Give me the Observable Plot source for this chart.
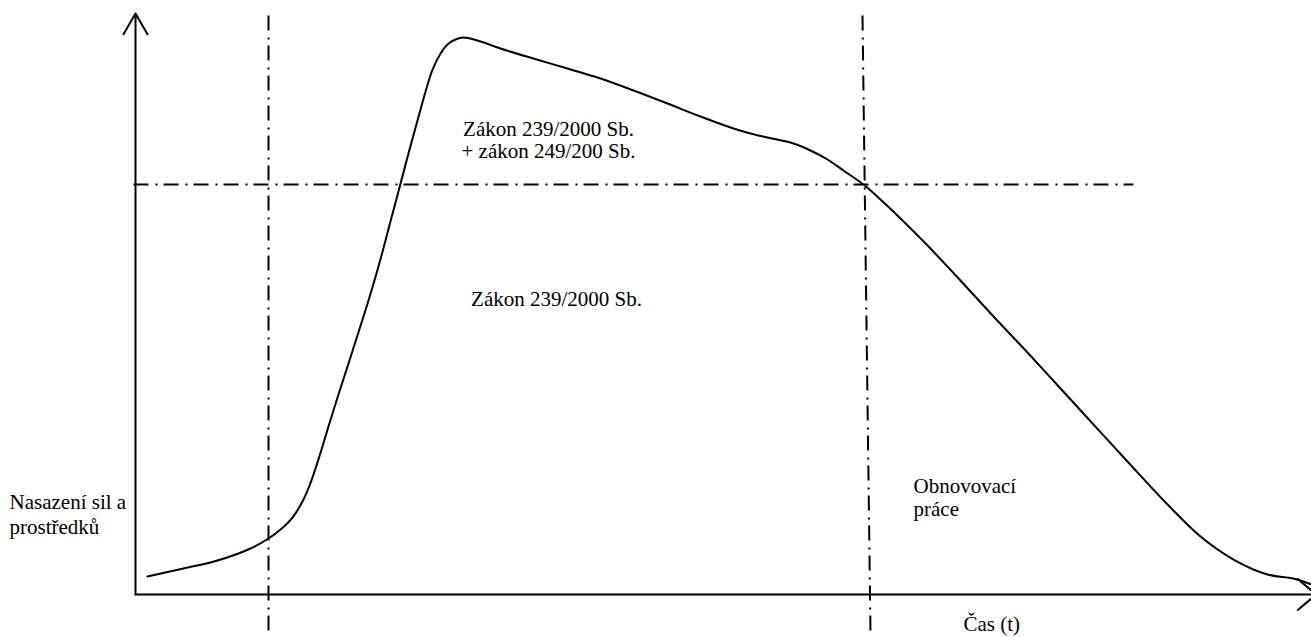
<!DOCTYPE html>
<html>
<head>
<meta charset="utf-8">
<script src="https://cdn.jsdelivr.net/npm/d3@7"></script>
<script src="https://cdn.jsdelivr.net/npm/@observablehq/plot@0.6"></script>
<style>
  html, body { margin: 0; padding: 0; background: #fff; }
  #chart svg { display: block; }
  #chart svg text { font-family: "Liberation Serif", "Times New Roman", "DejaVu Serif", serif !important; }
</style>
</head>
<body>
<div id="chart"></div>
<script>
// Time axis t (0..100) and deployment of forces f (0..100)
const curveT = [1.02, 4.08, 6.97, 9.78, 11.31, 12.33, 13.35, 14.20, 14.80, 15.31, 15.82, 16.41, 17.18, 18.03, 18.79, 19.47, 20.07, 20.92, 21.68, 22.45, 23.21, 23.98, 24.74, 25.26, 25.94, 26.53, 27.21, 27.89, 29.08, 31.04, 33.84, 36.73, 39.54, 42.35, 45.24, 48.04, 50.85, 52.30, 53.74, 55.95, 57.40, 58.84, 60.20, 61.90, 63.35, 65.05, 67.35, 70.15, 72.96, 75.85, 78.66, 81.46, 84.35, 87.76, 90.56, 93.37, 96.26, 98.47, 100];
const curveF = [3.10, 4.47, 5.85, 7.92, 9.64, 11.19, 13.25, 16.01, 18.76, 21.69, 24.96, 28.92, 33.91, 39.24, 44.06, 48.36, 52.32, 58.35, 64.20, 70.05, 75.90, 81.58, 87.09, 90.36, 93.12, 94.66, 95.52, 95.87, 95.35, 93.98, 92.25, 90.53, 88.81, 86.75, 84.51, 82.27, 80.21, 79.35, 78.66, 77.62, 76.42, 74.87, 72.98, 70.57, 67.99, 64.72, 60.07, 54.04, 47.85, 41.65, 35.46, 29.26, 22.89, 15.49, 9.98, 6.02, 3.44, 2.75, 1.72];

// Threshold level and phase boundaries
const thresholdF = 70.57;
const thresholdSpan = [-0.17, 84.86];
const phaseStartT = [11.31, 11.31];
const phaseEndT = [61.82, 62.5];
const phaseSpanF = [99.66, -6.54];

const labelUpper = "Zákon 239/2000 Sb.\n+ zákon 249/200 Sb.";
const labelLower = "Zákon 239/2000 Sb.";
const labelY = "Nasazení sil a\nprostředků";
const labelRecovery = "Obnovovací\npráce";
const labelX = "Čas (t)";

const curve = curveT.map((t, i) => ({t, f: curveF[i]}));
const font = "Liberation Serif";
const dash = "15,7,2,6";

const chart = Plot.plot({
  width: 1311,
  height: 637,
  margin: 0,
  style: {background: "#fff", overflow: "visible", fontFamily: "'Liberation Serif', serif"},
  x: {domain: [0, 100], range: [135, 1311], axis: null},
  y: {domain: [0, 100], range: [594, 13], axis: null},
  marks: [
    // axes with arrows
    Plot.arrow([0], {x1: 0, y1: 0, x2: 0, y2: 100, stroke: "#000", strokeWidth: 2, headLength: 18, headAngle: 60}),
    Plot.arrow([0], {x1: 0, y1: 0, x2: 100.4, y2: 0, stroke: "#000", strokeWidth: 2, headLength: 18, headAngle: 80}),
    // dash-dot guides
    Plot.link([0], {x1: thresholdSpan[0], x2: thresholdSpan[1], y1: thresholdF, y2: thresholdF, stroke: "#000", strokeWidth: 2, strokeDasharray: dash}),
    Plot.link([0], {x1: phaseStartT[0], x2: phaseStartT[1], y1: phaseSpanF[0], y2: phaseSpanF[1], stroke: "#000", strokeWidth: 2, strokeDasharray: dash}),
    Plot.link([0], {x1: phaseEndT[0], x2: phaseEndT[1], y1: phaseSpanF[0], y2: phaseSpanF[1], stroke: "#000", strokeWidth: 2, strokeDasharray: dash}),
    // curve
    Plot.line(curve, {x: "t", y: "f", stroke: "#000", strokeWidth: 2, curve: "catmull-rom"}),
    // labels
    Plot.text([labelUpper], {x: 35.12, y: 78.26, text: d => d, fontFamily: font, fontSize: 21, fill: "#000", lineHeight: 1.05, textAnchor: "middle"}),
    Plot.text([labelLower], {x: 35.8, y: 50.9, text: d => d, fontFamily: font, fontSize: 21, fill: "#000", textAnchor: "middle"}),
    Plot.text([labelY], {x: -10.71, y: 13.89, text: d => d, fontFamily: font, fontSize: 21, fill: "#000", lineHeight: 1.2, textAnchor: "start"}),
    Plot.text([labelRecovery], {x: 66.16, y: 16.73, text: d => d, fontFamily: font, fontSize: 21, fill: "#000", lineHeight: 1.1, textAnchor: "start"}),
    Plot.text([labelX], {x: 70.41, y: -5.04, text: d => d, fontFamily: font, fontSize: 21, fill: "#000", textAnchor: "start"})
  ]
});
document.getElementById("chart").appendChild(chart);
</script>
</body>
</html>
